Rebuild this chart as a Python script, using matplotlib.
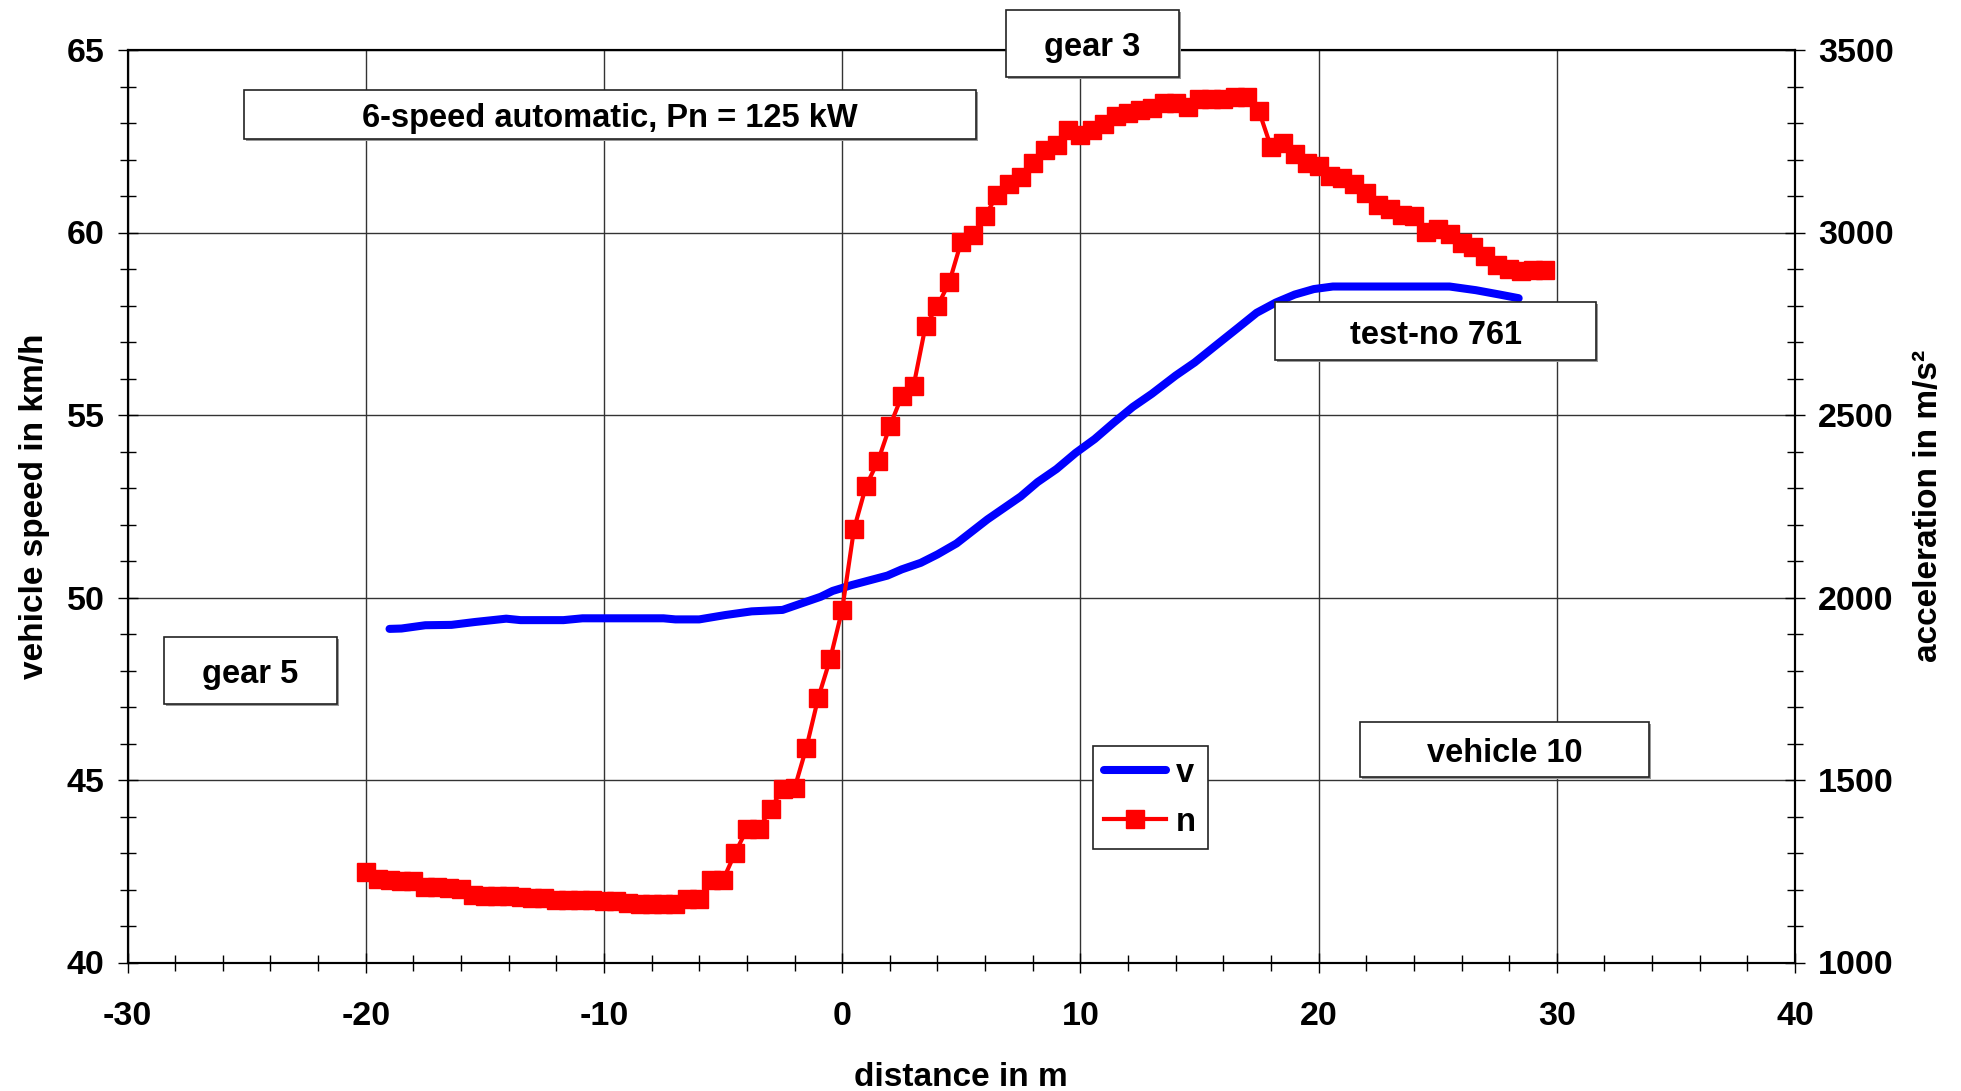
import matplotlib
matplotlib.use("Agg")
import matplotlib.pyplot as plt
from matplotlib.patches import Rectangle
from matplotlib.ticker import MultipleLocator

plt.rcParams['font.family'] = ['Liberation Sans', 'DejaVu Sans']
plt.rcParams['font.weight'] = 'bold'
plt.rcParams['axes.unicode_minus'] = False
FS = 23.5

# vehicle speed v (left axis)
v_dist = [-19.0, -18.5, -17.5, -16.4, -15.4, -14.1, -13.5, -11.7, -10.9, -7.5, -7.0,
          -6.0, -4.9, -3.8, -2.5, -1.7, -0.9, -0.4, 0.4, 1.9, 2.5, 3.3, 4.0, 4.8,
          6.1, 7.5, 8.2, 9.0, 9.8, 10.6, 11.4, 12.2, 13.0, 14.0, 14.8, 15.6, 16.6,
          17.4, 18.2, 19.0, 19.8, 20.6, 22.4, 25.5, 26.6, 27.6, 28.4]
v_speed = [49.14, 49.15, 49.24, 49.25, 49.33, 49.42, 49.38, 49.38, 49.43, 49.43, 49.40,
           49.40, 49.52, 49.62, 49.66, 49.84, 50.02, 50.18, 50.34, 50.60, 50.77, 50.95, 51.18, 51.48,
           52.14, 52.77, 53.16, 53.52, 53.96, 54.34, 54.79, 55.22, 55.58, 56.08, 56.44, 56.86, 57.38,
           57.80, 58.08, 58.30, 58.45, 58.52, 58.52, 58.52, 58.42, 58.30, 58.20]

# engine speed n (right axis), one square every 0.5 m
n_dist = [-20.0, -19.5, -19.0, -18.5, -18.0, -17.5, -17.0, -16.5, -16.0, -15.5,
          -15.0, -14.5, -14.0, -13.5, -13.0, -12.5, -12.0, -11.5, -11.0, -10.5,
          -10.0, -9.5, -9.0, -8.5, -8.0, -7.5, -7.0, -6.5, -6.0, -5.5,
          -5.0, -4.5, -4.0, -3.5, -3.0, -2.5, -2.0, -1.5, -1.0, -0.5,
          0.0, 0.5, 1.0, 1.5, 2.0, 2.5, 3.0, 3.5, 4.0, 4.5,
          5.0, 5.5, 6.0, 6.5, 7.0, 7.5, 8.0, 8.5, 9.0, 9.5,
          10.0, 10.5, 11.0, 11.5, 12.0, 12.5, 13.0, 13.5, 14.0, 14.5,
          15.0, 15.5, 16.0, 16.5, 17.0, 17.5, 18.0, 18.5, 19.0, 19.5,
          20.0, 20.5, 21.0, 21.5, 22.0, 22.5, 23.0, 23.5, 24.0, 24.5,
          25.0, 25.5, 26.0, 26.5, 27.0, 27.5, 28.0, 28.5, 29.0, 29.5]
n_rpm = [1248, 1229, 1226, 1224, 1222, 1208, 1207, 1203, 1202, 1185,
         1182, 1181, 1181, 1180, 1177, 1176, 1172, 1171, 1170, 1170,
         1169, 1168, 1162, 1160, 1160, 1159, 1160, 1173, 1174, 1225,
         1226, 1299, 1365, 1366, 1421, 1476, 1477, 1589, 1726, 1832,
         1966, 2188, 2305, 2373, 2469, 2551, 2580, 2744, 2798, 2864,
         2975, 2992, 3044, 3103, 3133, 3153, 3190, 3225, 3240, 3281,
         3267, 3280, 3298, 3320, 3328, 3336, 3340, 3356, 3355, 3345,
         3365, 3365, 3366, 3372, 3372, 3332, 3235, 3244, 3215, 3191,
         3182, 3156, 3150, 3132, 3108, 3075, 3064, 3049, 3044, 3001,
         3009, 2996, 2970, 2959, 2935, 2910, 2900, 2895, 2898, 2897]

W, H = 1961, 1091
fig = plt.figure(figsize=(W / 100, H / 100), dpi=100)
ax = fig.add_axes([127.5 / W, 1 - 962.5 / H, (1795 - 127.5) / W, (962.5 - 50) / H])
ax2 = ax.twinx()

lv, = ax.plot(v_dist, v_speed, color='#0000ff', lw=5.8, solid_capstyle='round', label='v', zorder=3)
ln, = ax2.plot(n_dist, n_rpm, color='#ff0000', lw=3, marker='s', ms=12.5,
               mec='#ff0000', label='n', zorder=3)

ax.set_xlim(-30, 40)
ax.set_ylim(40, 65)
ax2.set_ylim(1000, 3500)

ax.xaxis.set_major_locator(MultipleLocator(10))
ax.xaxis.set_minor_locator(MultipleLocator(2))
ax.yaxis.set_major_locator(MultipleLocator(5))
ax.yaxis.set_minor_locator(MultipleLocator(1))
ax2.yaxis.set_major_locator(MultipleLocator(500))
ax2.yaxis.set_minor_locator(MultipleLocator(100))

ax.grid(True, which='major', color='#333333', lw=1.0)
ax.set_axisbelow(True)

for a in (ax, ax2):
    a.tick_params(which='major', direction='inout', length=15, width=1.0, labelsize=24.5)
    a.tick_params(which='minor', direction='inout', length=12, width=1.0)
    for s in a.spines.values():
        s.set_linewidth(1.5)
ax.tick_params(axis='x', which='major', pad=20)
ax.tick_params(axis='y', which='major', pad=9)
ax2.tick_params(axis='y', which='major', pad=9)

ax.set_xlabel('distance in m', fontsize=24, fontweight='bold', labelpad=22)
ax.set_ylabel('vehicle speed in km/h', fontsize=24, fontweight='bold', labelpad=12)
ax2.set_ylabel('acceleration in m/s²', fontsize=24, fontweight='bold', labelpad=14)

for lab in ax.get_xticklabels() + ax.get_yticklabels() + ax2.get_yticklabels():
    lab.set_fontweight('bold')

# text boxes (pixel positions of the original layout)
boxes = [
    ((244, 90, 976, 139), '6-speed automatic, Pn = 125 kW'),
    ((1006, 10, 1179, 77), 'gear 3'),
    ((1275, 302, 1596, 360), 'test-no 761'),
    ((164, 637, 337, 704), 'gear 5'),
    ((1360, 722, 1649, 777), 'vehicle 10'),
]
for (x0, y0, x1, y1), txt in boxes:
    fig.add_artist(Rectangle((x0 / W + 2 / W, 1 - y1 / H - 2 / H), (x1 - x0) / W, (y1 - y0) / H,
                             transform=fig.transFigure, facecolor='#999999',
                             edgecolor='none', zorder=9))
    fig.add_artist(Rectangle((x0 / W, 1 - y1 / H), (x1 - x0) / W, (y1 - y0) / H,
                             transform=fig.transFigure, facecolor='white',
                             edgecolor='#222222', lw=1.2, zorder=10))
    fig.text((x0 + x1) / 2 / W, 1 - ((y0 + y1) / 2 + 4) / H, txt, ha='center', va='center',
             fontsize=FS, fontweight='bold', zorder=11)

leg = fig.legend(handles=[lv, ln], loc='lower left',
                 bbox_to_anchor=(1093 / W, 1 - 849 / H), fontsize=FS,
                 frameon=True, fancybox=False, edgecolor='#222222', framealpha=1,
                 handlelength=1.9, handletextpad=0.3, borderpad=0.35,
                 labelspacing=0.55, numpoints=1, borderaxespad=0)
leg.get_frame().set_linewidth(1.2)
for t in leg.get_texts():
    t.set_fontweight('bold')

fig.savefig('out.png', dpi=100)
